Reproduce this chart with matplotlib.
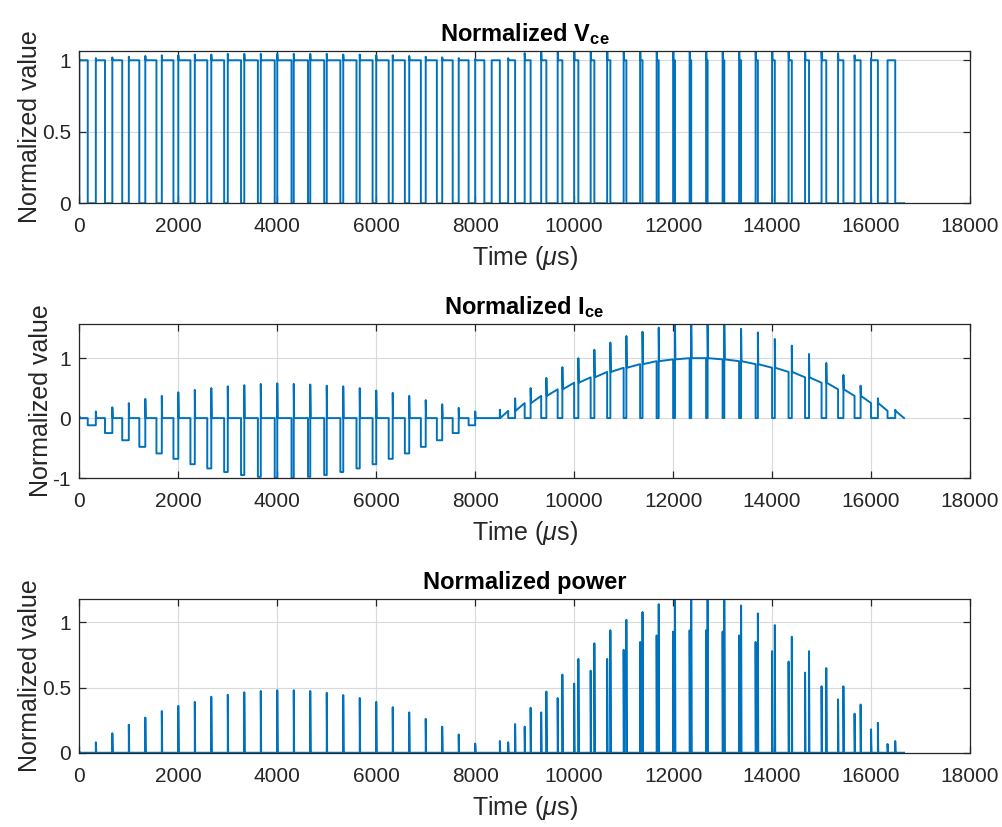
import numpy as np
import matplotlib
matplotlib.use("Agg")
import matplotlib.pyplot as plt

plt.rcParams['font.family'] = ['Liberation Sans', 'DejaVu Sans']
plt.rcParams['mathtext.fontset'] = 'custom'
plt.rcParams['mathtext.rm'] = 'Liberation Sans'
plt.rcParams['mathtext.it'] = 'Liberation Sans:italic'
plt.rcParams['mathtext.bf'] = 'Liberation Sans:bold'

# --- data (one value per switching period, 50 periods) ---
t_end_us = 16667          # one 60 Hz cycle
n_sw = 50                 # switching periods in the cycle

# width of the Vce "high" (off) interval in each period, us
w_off = [170, 185, 200, 212, 225, 235, 245, 252, 260, 268, 275, 282, 288,
         288, 282, 275, 268, 260, 252, 245, 235, 225, 212, 200, 185,
         165, 140, 120, 105, 95, 85, 75, 65, 55, 48, 42, 38, 32,
         30, 34, 40, 46, 55, 65, 80, 95, 108, 122, 138, 155]

# Vce overshoot at turn-off
v_peak = [1.01, 1.015, 1.02, 1.025, 1.03, 1.035, 1.035, 1.04, 1.04, 1.045, 1.045, 1.045, 1.045,
          1.045, 1.045, 1.045, 1.04, 1.04, 1.035, 1.035, 1.03, 1.025, 1.02, 1.015, 1.01,
          1.0, 1.015, 1.05, 1.08, 1.1, 1.12, 1.14, 1.15, 1.16, 1.17, 1.18, 1.18, 1.18,
          1.18, 1.18, 1.17, 1.16, 1.15, 1.12, 1.08, 1.06, 1.05, 1.035, 1.015, 1.0]

# load current at each switching instant (51 points incl. end)
i_load = [0, -0.12, -0.25, -0.37, -0.48, -0.59, -0.68, -0.77, -0.84, -0.9, -0.95, -0.98, -1.0,
          -1.0, -0.98, -0.95, -0.9, -0.84, -0.77, -0.68, -0.59, -0.48, -0.37, -0.25, -0.12,
          0, 0.12, 0.25, 0.37, 0.48, 0.59, 0.68, 0.77, 0.84, 0.9, 0.95, 0.98, 1.0,
          1.0, 0.98, 0.95, 0.9, 0.84, 0.77, 0.68, 0.59, 0.48, 0.37, 0.25, 0.12, 0.0]

# Ice spike peak (turn-off in the negative half, turn-on in the positive half)
ice_spike = [0.03, 0.11, 0.18, 0.25, 0.32, 0.37, 0.43, 0.47, 0.5, 0.53, 0.55, 0.57, 0.58,
             0.57, 0.56, 0.54, 0.53, 0.5, 0.46, 0.42, 0.37, 0.3, 0.23, 0.17, 0.11,
             0.14, 0.33, 0.5, 0.67, 0.85, 1.0, 1.14, 1.26, 1.37, 1.44, 1.51, 1.62, 1.65,
             1.62, 1.56, 1.49, 1.43, 1.32, 1.21, 1.07, 0.92, 0.72, 0.54, 0.33, 0.14]

# power spikes at turn-off and turn-on
p_off = [0.01, 0.08, 0.15, 0.215, 0.27, 0.32, 0.36, 0.39, 0.43, 0.445, 0.464, 0.474, 0.48,
         0.48, 0.474, 0.46, 0.443, 0.42, 0.39, 0.35, 0.31, 0.26, 0.2, 0.14, 0.07,
         0.0, 0.08, 0.2, 0.31, 0.42, 0.53, 0.63, 0.72, 0.79, 0.85, 0.9, 0.93, 0.94,
         0.94, 0.93, 0.9, 0.85, 0.78, 0.7, 0.615, 0.51, 0.41, 0.3, 0.18, 0.067]
p_on = [0.0] * 25 + [0.09, 0.22, 0.345, 0.47, 0.6, 0.72, 0.84, 0.94, 1.02, 1.08, 1.14, 1.22, 1.24,
                     1.22, 1.17, 1.13, 1.07, 0.98, 0.89, 0.78, 0.65, 0.51, 0.37, 0.23, 0.09]

# --- build the step waveforms ---
period = t_end_us / n_sw
dt = 8  # spike width, us
vt, vv, it, iv, pt, pv = [], [], [], [], [], []
for k in range(n_sw):
    t0 = k * period
    t1 = t0 + w_off[k]
    t2 = (k + 1) * period
    vt += [t0, t0, t0 + dt, t1, t1]
    vv += [0, v_peak[k], 1, 1, 0]
    if i_load[k] + i_load[k + 1] < 0:
        it += [t0, t0, t0 + dt, t1, t1, t2]
        iv += [i_load[k], ice_spike[k], 0, 0, i_load[k + 1], i_load[k + 1]]
    else:
        it += [t0, t0, t1, t1, t1 + dt, t2]
        iv += [i_load[k], 0, 0, ice_spike[k], i_load[k], i_load[k + 1]]
    pt += [t0, t0, t0 + dt, t1, t1, t1 + dt]
    pv += [0, p_off[k], 0, 0, p_on[k], 0]
vt.append(t_end_us); vv.append(0)
pt.append(t_end_us); pv.append(0)

fig = plt.figure(figsize=(10.03, 8.27), dpi=100)
blue = '#0072BD'
dark = '#262626'

specs = [
    (vt, vv, [0.0791, 0.7542, 0.888, 0.1845], (0, 1.067), [0, 0.5, 1], ['0', '0.5', '1'],
     r'Normalized V$_{\mathbf{ce}}$'),
    (it, iv, [0.0791, 0.4220, 0.888, 0.1862], (-1, 1.57), [-1, 0, 1], ['-1', '0', '1'],
     r'Normalized I$_{\mathbf{ce}}$'),
    (pt, pv, [0.0791, 0.0898, 0.888, 0.1859], (0, 1.18), [0, 0.5, 1], ['0', '0.5', '1'],
     'Normalized power'),
]

for x, y, pos, ylim, yt, ytl, title in specs:
    ax = fig.add_axes(pos)
    ax.plot(x, y, color=blue, lw=1.4)
    ax.set_xlim(0, 18000)
    ax.set_ylim(*ylim)
    ax.set_xticks(np.arange(0, 18001, 2000))
    ax.set_yticks(yt)
    ax.set_yticklabels(ytl)
    ax.grid(True, color='#d9d9d9', lw=0.8)
    ax.set_axisbelow(True)
    for s in ax.spines.values():
        s.set_color(dark)
        s.set_linewidth(0.9)
    ax.tick_params(direction='in', top=True, right=True, length=5, width=0.9,
                   colors=dark, labelsize=15)
    ax.tick_params(axis='x', pad=10)
    ax.tick_params(axis='y', pad=6)
    ax.set_title(title, fontsize=17, fontweight='bold', pad=7)
    ax.set_xlabel(r'Time ($\mu$s)', fontsize=18, color=dark, labelpad=6)
    ax.set_ylabel('Normalized value', fontsize=18, color=dark, labelpad=0)

fig.savefig('out.png', dpi=100)
